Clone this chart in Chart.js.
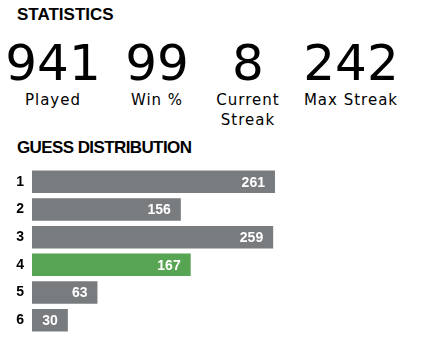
<!DOCTYPE html>
<html>
<head>
<meta charset="utf-8">
<script src="https://cdn.jsdelivr.net/npm/chart.js@4"></script>
<style>
    body { margin: 0; width: 421px; height: 351px; background: #fff; position: relative; overflow: hidden; }
    .head { position: absolute; left: 17px; font: bold 17px "Liberation Sans", Arial, sans-serif; line-height: 20px; color: #000; }
    .stat { position: absolute; width: 110px; text-align: center; color: #000; }
    .num { position: absolute; top: 38px; width: 100%; font: 50px "DejaVu Sans", sans-serif; line-height: 50px; }
    .lbl { position: absolute; top: 90px; width: 100%; font: 15px "DejaVu Sans", sans-serif; line-height: 20px; letter-spacing: 1px; }
    #wrap { position: absolute; left: 0; top: 168px; width: 292px; height: 166px; }
</style>
</head>
<body>
<div class="head" style="top:5px">STATISTICS</div>
<div id="stats"></div>
<div class="head" style="top:138px; letter-spacing:-0.6px">GUESS DISTRIBUTION</div>
<div id="wrap"><canvas id="dist"></canvas></div>

<script>
// DATA
const statValues = [941, 99, 8, 242];
const statLabels = ["Played", "Win %", "Current<br>Streak", "Max Streak"];
const guessLabels = ["1", "2", "3", "4", "5", "6"];
const guessCounts = [261, 156, 259, 167, 63, 30];
const lastGuess = 4;

// STAT COLUMNS
const statCenters = [53, 157, 248, 351];
const statsBox = document.getElementById("stats");
statValues.forEach((v, i) => {
    const div = document.createElement("div");
    div.className = "stat";
    div.style.left = (statCenters[i] - 55) + "px";
    div.innerHTML = `<div class="num">${v}</div><div class="lbl">${statLabels[i]}</div>`;
    statsBox.appendChild(div);
});

// value labels inside the bars
const barLabels = {
    id: "barLabels",
    afterDatasetsDraw(chart) {
        const ctx = chart.ctx;
        const meta = chart.getDatasetMeta(0);
        ctx.save();
        ctx.font = "bold 14px 'Liberation Sans', Arial, sans-serif";
        ctx.fillStyle = "#fff";
        ctx.textAlign = "right";
        ctx.textBaseline = "middle";
        meta.data.forEach((bar, i) => {
            ctx.fillText(guessCounts[i], bar.x - 10, bar.y + 1);
        });
        ctx.restore();
    }
};

new Chart(document.getElementById("dist"), {
    type: "bar",
    data: {
        labels: guessLabels,
        datasets: [{
            data: guessCounts,
            base: -10,
            backgroundColor: guessLabels.map(l => +l === lastGuess ? "#57a552" : "#787c7e"),
            barPercentage: 0.815,
            categoryPercentage: 1
        }]
    },
    options: {
        indexAxis: "y",
        responsive: true,
        maintainAspectRatio: false,
        animation: false,
        events: [],
        layout: { padding: 0 },
        plugins: { legend: { display: false }, tooltip: { enabled: false } },
        scales: {
            x: { display: false, min: -10, max: 280 },
            y: {
                grid: { display: false, drawTicks: false },
                border: { display: false },
                ticks: {
                    color: "#000",
                    padding: 8,
                    font: { family: "'Liberation Sans', Arial, sans-serif", size: 14, weight: "bold" }
                },
                afterFit(scale) {
                    scale.width = 32;
                    scale.paddingTop = 0;
                    scale.paddingBottom = 0;
                }
            }
        }
    },
    plugins: [barLabels]
});
</script>
</body>
</html>
